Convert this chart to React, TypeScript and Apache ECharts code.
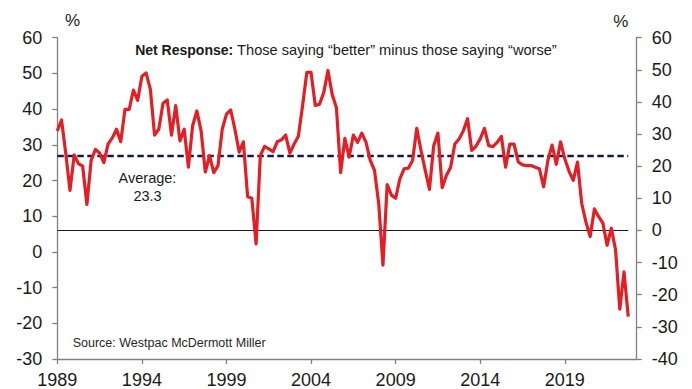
import React, { useEffect, useRef } from "react";
import * as echarts from "echarts";

const FONT = '"Liberation Sans", Arial, Helvetica, sans-serif';

// Quarterly categories, 1989 Q1 .. 2023 Q2 (axis runs slightly past the last observation)
const START_YEAR = 1989;
const CATEGORY_COUNT = 138;
const quarters: string[] = Array.from(
  { length: CATEGORY_COUNT },
  (_, i) => `${START_YEAR + Math.floor(i / 4)} Q${(i % 4) + 1}`
);

// Net response (%), "better" minus "worse", 1989 Q1 .. 2022 Q4 (right axis)
const netResponse: number[] = [
  31.0, 34.4, 24.0, 12.5, 23.5, 20.8, 20.0, 8.1, 21.8, 25.2,
  24.1, 21.1, 26.9, 28.8, 31.5, 27.6, 37.7, 37.7, 43.7, 40.5,
  48.0, 49.0, 44.0, 29.7, 31.5, 39.6, 40.6, 29.7, 38.9, 27.9,
  31.5, 19.7, 32.6, 37.2, 31.0, 18.2, 23.3, 18.0, 20.2, 31.5,
  36.2, 37.5, 31.5, 24.4, 27.6, 10.5, 10.0, -4.2, 23.3, 26.2,
  25.4, 24.5, 27.6, 28.2, 29.7, 24.1, 26.9, 29.3, 38.9, 49.2,
  49.2, 38.9, 39.3, 42.9, 49.8, 42.3, 38.2, 18.0, 28.7, 22.8,
  29.7, 27.4, 30.3, 27.4, 21.8, 18.7, 8.4, -10.8, 14.3, 11.0,
  10.0, 16.1, 19.2, 19.4, 21.8, 31.8, 24.9, 18.7, 12.8, 26.4,
  30.3, 13.3, 17.1, 19.7, 26.9, 28.5, 31.0, 34.8, 24.9, 26.2,
  28.5, 31.8, 26.4, 26.1, 27.4, 29.3, 19.7, 26.9, 26.9, 21.3,
  20.4, 20.2, 20.2, 19.7, 19.2, 13.6, 21.8, 26.6, 20.6, 27.6,
  22.3, 18.4, 15.6, 21.3, 8.4, 2.6, -1.9, 6.7, 4.3, 2.3,
  -4.6, 0.7, -6.0, -24.5, -12.9, -26.8,
];

const AVERAGE = 23.3;

// Axis ranges
const LEFT_AXIS = { min: -30, max: 60, interval: 10 };
const RIGHT_AXIS = { min: -40, max: 60, interval: 10 };

const TITLE_BOLD = "Net Response:";
const TITLE_REST = " Those saying \u201cbetter\u201d minus those saying \u201cworse\u201d";
const SOURCE = "Source: Westpac McDermott Miller";

const AXIS_COLOR = "#808080";
const TEXT_COLOR = "#1a1a1a";

export default function App() {
  const ref = useRef<HTMLDivElement>(null);

  useEffect(() => {
    document.body.style.margin = "0";
    const chart = echarts.init(ref.current!, null, {
      renderer: "svg",
      width: 692,
      height: 389,
    });

    const lastCat = quarters[netResponse.length - 1];

    const yAxisCommon = {
      type: "value",
      axisLine: { show: true, lineStyle: { color: AXIS_COLOR, width: 1.3 } },
      axisTick: { show: true, length: 5, lineStyle: { color: AXIS_COLOR, width: 1.3 } },
      axisLabel: { margin: 15, fontSize: 18, color: TEXT_COLOR, fontFamily: FONT },
      splitLine: { show: false },
    };

    chart.setOption({
      animation: false,
      backgroundColor: "#ffffff",
      grid: { left: 57.3, right: 55.3, top: 37.7, bottom: 27, containLabel: false },
      xAxis: {
        type: "category",
        data: quarters,
        boundaryGap: false,
        axisLine: { onZero: false, lineStyle: { color: AXIS_COLOR, width: 1.3 } },
        axisTick: { interval: 19, length: 5, lineStyle: { color: AXIS_COLOR, width: 1.3 } },
        axisLabel: {
          interval: 19,
          formatter: (v: string) => v.slice(0, 4),
          color: TEXT_COLOR,
          fontSize: 18,
          fontFamily: FONT,
          margin: 12,
        },
        splitLine: { show: false },
      },
      yAxis: [
        { ...yAxisCommon, position: "left", ...LEFT_AXIS },
        { ...yAxisCommon, position: "right", ...RIGHT_AXIS },
      ],
      series: [
        {
          type: "line",
          yAxisIndex: 1,
          data: netResponse,
          showSymbol: false,
          symbol: "none",
          z: 3,
          lineStyle: { color: "#e31e25", width: 3.2, join: "round" },
          markLine: {
            z: 1,
            silent: true,
            symbol: ["none", "none"],
            label: { show: false },
            data: [
              [
                {
                  coord: [quarters[0], AVERAGE],
                  lineStyle: { color: "#16184a", width: 2.4, type: [6.5, 3.5] },
                },
                { coord: [lastCat, AVERAGE] },
              ],
              [
                {
                  coord: [quarters[0], 0],
                  lineStyle: { color: "#1a1a1a", width: 1.2, type: "solid" },
                },
                { coord: [lastCat, 0] },
              ],
            ],
          },
        },
      ],
      graphic: [
        {
          type: "text",
          x: 346,
          y: 50,
          style: {
            text: `{b|${TITLE_BOLD}}${TITLE_REST}`,
            rich: {
              b: { fontWeight: "bold", fontSize: 14, fontFamily: FONT, fill: TEXT_COLOR },
            },
            fontSize: 14.6,
            fontFamily: FONT,
            fill: TEXT_COLOR,
            align: "center",
            verticalAlign: "middle",
          },
        },
        {
          type: "text",
          x: 147.5,
          y: 187,
          style: {
            text: `Average:\n${AVERAGE}`,
            fontSize: 14.5,
            lineHeight: 18,
            fontFamily: FONT,
            fill: TEXT_COLOR,
            align: "center",
            verticalAlign: "middle",
          },
        },
        {
          type: "text",
          x: 72.7,
          y: 342.5,
          style: {
            text: SOURCE,
            fontSize: 12.5,
            fontFamily: FONT,
            fill: "#262626",
            align: "left",
            verticalAlign: "middle",
          },
        },
        {
          type: "text",
          x: 72.5,
          y: 20,
          style: { text: "%", fontSize: 17, fontFamily: FONT, fill: TEXT_COLOR, align: "center", verticalAlign: "middle" },
        },
        {
          type: "text",
          x: 620.8,
          y: 21,
          style: { text: "%", fontSize: 17, fontFamily: FONT, fill: TEXT_COLOR, align: "center", verticalAlign: "middle" },
        },
      ],
    });

    return () => chart.dispose();
  }, []);

  return (
    <div
      ref={ref}
      style={{ width: 692, height: 389, position: "absolute", left: 0, top: 0 }}
    />
  );
}
